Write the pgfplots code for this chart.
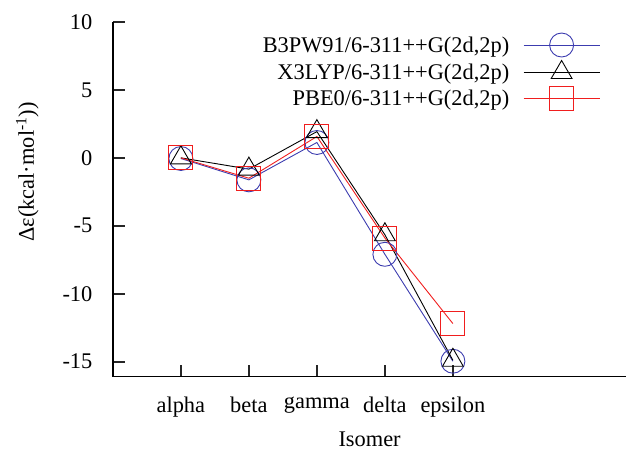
\documentclass[border=0pt]{standalone}
\usepackage{pgfplots}
\pgfplotsset{compat=1.18}
\usepackage{fontspec}
\setmainfont{Liberation Serif}

\definecolor{bluel}{RGB}{60,60,175}
\definecolor{redl}{RGB}{240,30,30}

\begin{document}
\begin{tikzpicture}
\begin{axis}[
    scale only axis,
    width=514bp, height=355bp,
    xmin=-1, xmax=6.55,
    ymin=-16.1, ymax=10,
    axis x line=bottom, axis y line=left,
    axis line style={-, line width=1.4pt},
    xtick align=inside, ytick align=inside,
    major tick length=12bp,
    tick style={line width=1.8pt, color=black!85},
    xtick={0,1,2,3,4},
    xticklabels={alpha,beta,gamma,delta,epsilon},
    ytick={-15,-10,-5,0,5,10},
    /pgf/number format/assume math mode=true,
    font=\fontsize{22.5}{27}\selectfont,
    xticklabel style={yshift=-17bp},
    yticklabel style={xshift=-17bp},
    xlabel={Isomer},
    xlabel style={yshift=-8bp},
    ylabel={Δε(kcal·mol\textsuperscript{-1}))},
    ylabel style={at={(ticklabel cs:0.577,17bp)}},
    legend style={draw=none, fill=none, at={(0.955,0.975)}, anchor=north east,
        legend cell align=right, row sep=3.5bp,
        font=\fontsize{22.5}{27}\selectfont},
    legend plot pos=right,
    legend image code/.code={
        \draw[mark repeat=2, mark phase=2]
        plot coordinates {(0bp,0bp) (38bp,0bp) (76bp,0bp)};
    },
    every axis plot/.append style={line width=0.9pt, mark size=12bp},
]
\addplot[color=bluel, mark=o] coordinates {
    (0,-0.05) (1,-1.62) (2,1.13) (3,-7.1) (4,-14.97)
};
\addplot[color=black, mark=triangle] coordinates {
    (0,0) (1,-0.83) (2,1.93) (3,-5.66) (4,-14.9)
};
\addplot[color=redl, mark=square] coordinates {
    (0,0) (1,-1.5) (2,1.57) (3,-5.9) (4,-12.2)
};
\legend{B3PW91/6-311++G(2d{,}2p)\kern12bp,
    X3LYP/6-311++G(2d{,}2p)\kern12bp,
    PBE0/6-311++G(2d{,}2p)\kern12bp}
\end{axis}
\path ([shift={(-113bp,-75bp)}]current axis.south west)
    rectangle ([shift={(0bp,22bp)}]current axis.north east);
\end{tikzpicture}
\end{document}
